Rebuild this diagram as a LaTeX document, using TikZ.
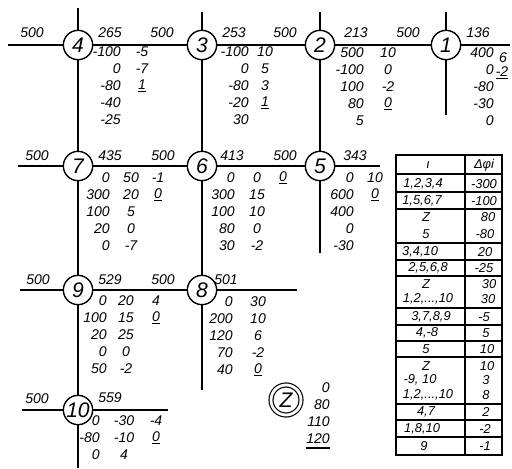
\documentclass[tikz,border=0pt]{standalone}
\usepackage{fontspec}
\setmainfont{Liberation Sans}

\begin{document}
\begin{tikzpicture}[x=0.03cm, y=-0.03cm,
    knot/.style={circle, draw, line width=1.2pt, minimum size=0.88cm, inner sep=0pt, font=\itshape\fontsize{18}{18}\selectfont},
    val/.style={inner sep=0pt, font=\itshape\fontsize{12}{12}\selectfont},
    cell/.style={inner sep=0pt, font=\itshape\fontsize{11}{11}\selectfont},
    pipe/.style={line width=1.5pt},
    grid/.style={line width=0.9pt}]
  \useasboundingbox (0,0) rectangle (512,468);

  % knots
  \node[knot] (k4) at (78,45) {4};
  \node[knot] (k3) at (202,45) {3};
  \node[knot] (k2) at (320,45) {2};
  \node[knot] (k1) at (446,45) {1};
  \node[knot] (k7) at (78,166) {7};
  \node[knot] (k6) at (202,166) {6};
  \node[knot] (k5) at (320,166) {5};
  \node[knot] (k9) at (78,290) {9};
  \node[knot] (k8) at (202,290) {8};
  \node[knot] (k10) at (78,410) {10};
  \node[knot, double, double distance=2.4pt, line width=1pt, minimum size=0.9cm] (kZ) at (286,400) {Z};

  % free ends
  \coordinate (w1) at (8,45);   \coordinate (e1) at (510,45);
  \coordinate (w2) at (18,166); \coordinate (e2) at (380,166);
  \coordinate (w3) at (20,290); \coordinate (e3) at (297,290);
  \coordinate (w4) at (22,410); \coordinate (e4) at (168,410);
  \coordinate (n4) at (78,8);   \coordinate (s10) at (78,468);
  \coordinate (n3) at (202,12); \coordinate (s8) at (202,390);
  \coordinate (n2) at (320,12); \coordinate (s5) at (320,253);
  \coordinate (n1) at (446,12); \coordinate (s1) at (446,115);

  % pipes
  \draw[pipe] (w1) -- (k4) -- (k3) -- (k2) -- (k1) -- (e1);
  \draw[pipe] (w2) -- (k7) -- (k6) -- (k5) -- (e2);
  \draw[pipe] (w3) -- (k9) -- (k8) -- (e3);
  \draw[pipe] (w4) -- (k10) -- (e4);
  \draw[pipe] (n4) -- (k4) -- (k7) -- (k9) -- (k10) -- (s10);
  \draw[pipe] (n3) -- (k3) -- (k6) -- (k8) -- (s8);
  \draw[pipe] (n2) -- (k2) -- (k5) -- (s5);
  \draw[pipe] (n1) -- (k1) -- (s1);

  % flows on the lines
  \node[val] (q4w) at (32,33) {500};
  \node[val] (q4) at (110,33) {265};
  \node[val] (q43) at (162,33) {500};
  \node[val] (q3) at (234,33) {253};
  \node[val] (q32) at (285,33) {500};
  \node[val] (q2) at (356,33) {213};
  \node[val] (q21) at (408,33) {500};
  \node[val] (q1) at (478,33) {136};
  \node[val] (q7w) at (37,156) {500};
  \node[val] (q7) at (110,156) {435};
  \node[val] (q76) at (163,156) {500};
  \node[val] (q6) at (232,156) {413};
  \node[val] (q65) at (285,156) {500};
  \node[val] (q5) at (355,156) {343};
  \node[val] (q9w) at (38,280) {500};
  \node[val] (q9) at (110,280) {529};
  \node[val] (q98) at (163,280) {500};
  \node[val] (q8) at (226,280) {501};
  \node[val] (q10w) at (37,399) {500};
  \node[val] (q10) at (110,398) {559};

  % corrections, row 1
  \foreach \v [count=\k] in {-100,0,-80,-40,-25}
    \node[val, anchor=east] (a4-\k) at (121,{52+17*(\k-1)}) {\v};
  \foreach \v [count=\k] in {-5,-7,{\underline{1}}}
    \node[val] (b4-\k) at (142,{52+17*(\k-1)}) {\v};
  \foreach \v [count=\k] in {-100,0,-80,-20,30}
    \node[val, anchor=east] (a3-\k) at (249,{52+17*(\k-1)}) {\v};
  \foreach \v [count=\k] in {10,5,3,{\underline{1}}}
    \node[val] (b3-\k) at (265,{52+17*(\k-1)}) {\v};
  \foreach \v [count=\k] in {500,-100,100,80,5}
    \node[val, anchor=east] (a2-\k) at (364,{53+17*(\k-1)}) {\v};
  \foreach \v [count=\k] in {10,0,-2,{\underline{0}}}
    \node[val] (b2-\k) at (388,{53+17*(\k-1)}) {\v};
  \foreach \v [count=\k] in {400,0,-80,-30,0}
    \node[val, anchor=east] (a1-\k) at (494,{53+17*(\k-1)}) {\v};
  \node[val] (b1-1) at (503,58) {6};
  \node[val] (b1-2) at (502,73) {\underline{-2}};

  % corrections, row 2
  \foreach \v [count=\k] in {0,300,100,20,0}
    \node[val, anchor=east] (a7-\k) at (110,{178+17*(\k-1)}) {\v};
  \foreach \v [count=\k] in {50,20,5,0,-7}
    \node[val] (b7-\k) at (131,{178+17*(\k-1)}) {\v};
  \foreach \v [count=\k] in {-1,{\underline{0}}}
    \node[val] (c7-\k) at (158,{178+17*(\k-1)}) {\v};
  \foreach \v [count=\k] in {0,300,100,80,30}
    \node[val, anchor=east] (a6-\k) at (235,{178+17*(\k-1)}) {\v};
  \foreach \v [count=\k] in {0,15,10,0,-2}
    \node[val] (b6-\k) at (257,{178+17*(\k-1)}) {\v};
  \node[val] (c6-1) at (283,178) {\underline{0}};
  \foreach \v [count=\k] in {0,600,400,0,-30}
    \node[val, anchor=east] (a5-\k) at (354,{178+17*(\k-1)}) {\v};
  \foreach \v [count=\k] in {10,{\underline{0}}}
    \node[val] (b5-\k) at (375,{178+17*(\k-1)}) {\v};

  % corrections, row 3
  \foreach \v [count=\k] in {0,100,20,0,50}
    \node[val, anchor=east] (a9-\k) at (107,{301+17*(\k-1)}) {\v};
  \foreach \v [count=\k] in {20,15,25,0,-2}
    \node[val] (b9-\k) at (126,{301+17*(\k-1)}) {\v};
  \foreach \v [count=\k] in {4,{\underline{0}}}
    \node[val] (c9-\k) at (156,{301+17*(\k-1)}) {\v};
  \foreach \v [count=\k] in {0,200,120,70,40}
    \node[val, anchor=east] (a8-\k) at (233,{302+17*(\k-1)}) {\v};
  \foreach \v [count=\k] in {30,10,6,-2,{\underline{0}}}
    \node[val] (b8-\k) at (258,{302+17*(\k-1)}) {\v};

  % corrections, row 4
  \foreach \v [count=\k] in {0,-80,0}
    \node[val, anchor=east] (a10-\k) at (100,{421+17*(\k-1)}) {\v};
  \foreach \v [count=\k] in {-30,-10,4}
    \node[val] (b10-\k) at (124,{421+17*(\k-1)}) {\v};
  \foreach \v [count=\k] in {-4,{\underline{0}}}
    \node[val] (c10-\k) at (156,{421+17*(\k-1)}) {\v};

  % Z
  \foreach \v [count=\k] in {0,80,110,120}
    \node[val, anchor=east] (z-\k) at (330,{388+17*(\k-1)}) {\v};
  \draw[line width=1.8pt] ([yshift=-3pt]z-4.south west) -- ([yshift=-3pt]z-4.south east);

  % table
  \draw[grid] (396,155) rectangle (502,455);
  \draw[grid] (465,155) -- (465,455);
  \foreach \y in {174,192,209,243,260,276,308,325,341,357,404,420,437}
    \draw[grid] (396,\y) -- (502,\y);
  \node[cell] (ti) at (428,165) {ι};
  \node[cell] (tdp) at (484,165) {Δφi};
  \node[cell] (t1) at (423,184) {1,2,3,4};
  \node[cell] (t2) at (422,201) {1,5,6,7};
  \node[cell] (t3) at (426,217) {Z};
  \node[cell] (t4) at (426,234) {5};
  \node[cell] (t5) at (420,252) {3,4,10};
  \node[cell] (t6) at (428,268) {2,5,6,8};
  \node[cell] (t7) at (426,284) {Z};
  \node[cell] (t8) at (428,299) {1,2,...,10};
  \node[cell] (t9) at (431,317) {3,7,8,9};
  \node[cell] (t10) at (427,333) {4,-8};
  \node[cell] (t11) at (426,349) {5};
  \node[cell] (t12) at (426,366) {Z};
  \node[cell] (t13) at (420,380) {-9, 10};
  \node[cell] (t14) at (428,395) {1,2,...,10};
  \node[cell] (t15) at (426,412) {4,7};
  \node[cell] (t16) at (422,429) {1,8,10};
  \node[cell] (t17) at (424,446) {9};
  \node[cell] (d1) at (484,184) {-300};
  \node[cell] (d2) at (484,201) {-100};
  \node[cell] (d3) at (488,217) {80};
  \node[cell] (d4) at (485,234) {-80};
  \node[cell] (d5) at (485,252) {20};
  \node[cell] (d6) at (484,268) {-25};
  \node[cell] (d7) at (489,284) {30};
  \node[cell] (d8) at (488,299) {30};
  \node[cell] (d9) at (484,317) {-5};
  \node[cell] (d10) at (486,333) {5};
  \node[cell] (d11) at (487,349) {10};
  \node[cell] (d12) at (487,366) {10};
  \node[cell] (d13) at (486,380) {3};
  \node[cell] (d14) at (486,395) {8};
  \node[cell] (d15) at (486,412) {2};
  \node[cell] (d16) at (485,429) {-2};
  \node[cell] (d17) at (485,446) {-1};
\end{tikzpicture}
\end{document}
